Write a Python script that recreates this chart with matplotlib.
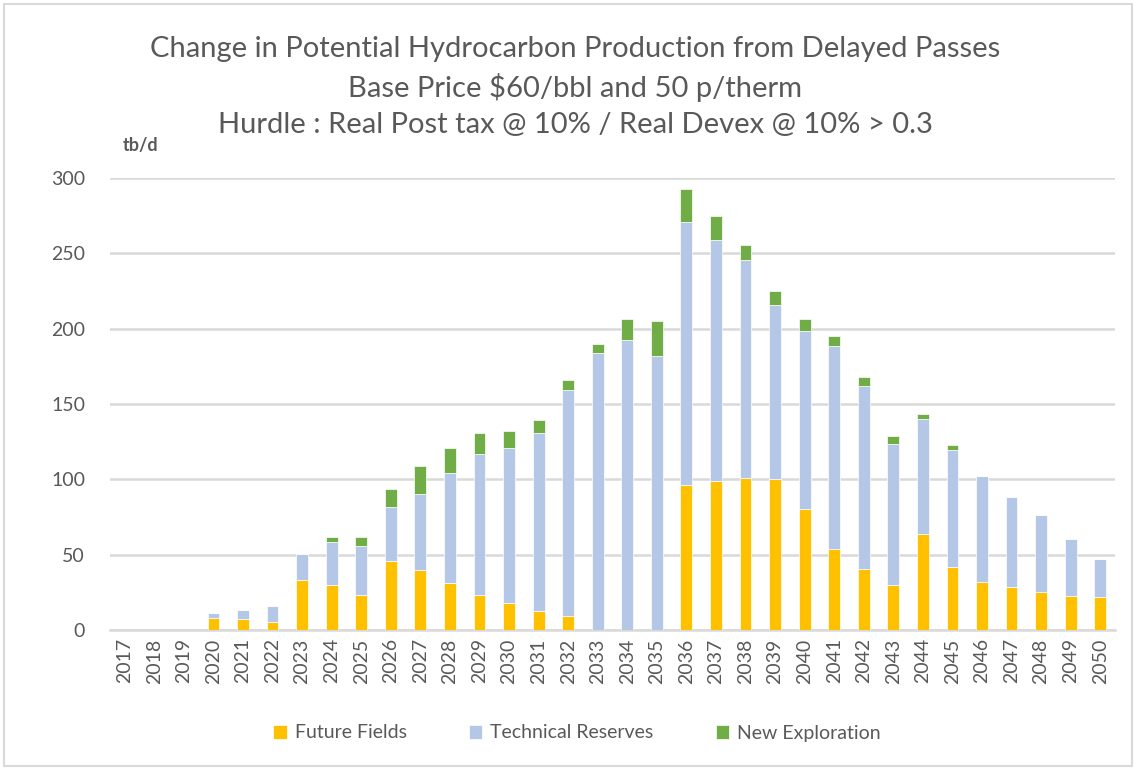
import matplotlib.pyplot as plt
import numpy as np
from matplotlib.patches import Rectangle

plt.rcParams['font.family'] = ['Lato', 'DejaVu Sans']

# --- Data (tb/d) ---
years = [str(y) for y in range(2017, 2051)]
future_fields = [0, 0, 0, 8, 7, 5, 33, 30, 23, 46, 40, 31, 23, 18, 12.5, 9,
                 0, 0, 0, 96, 99, 101, 100, 80, 54, 40.6, 29.6, 63.6, 41.5,
                 32, 28.7, 25.4, 22.8, 21.9]
technical_reserves = [0, 0, 0, 3, 6.5, 11, 17.5, 28.5, 33, 35.5, 50, 73, 94,
                      103, 118, 150, 184, 192.6, 181.6, 175, 160, 144.5, 115.6,
                      118.6, 134.3, 121.3, 94.1, 76.2, 78, 70.5, 59.4, 50.8,
                      37.3, 25.4]
new_exploration = [0, 0, 0, 0, 0, 0, 0, 3.5, 6, 12, 19, 17, 13.5, 11, 8.7, 7,
                   5.5, 13.7, 23.6, 22, 16, 10, 9.5, 7.7, 7, 6.2, 5.1, 3.6,
                   3.5, 0, 0, 0, 0, 0]

ff = np.array(future_fields)
tr = np.array(technical_reserves)
ne = np.array(new_exploration)
x = np.arange(len(years))

fig = plt.figure(figsize=(11.37, 7.69), dpi=100)
ax = fig.add_axes([110 / 1137, 1 - 630 / 769, 1005 / 1137, 452 / 769])

w = 0.4
ax.bar(x, ff, w, color='#FFC000', edgecolor='white', linewidth=0.5,
       label='Future Fields', zorder=3)
ax.bar(x, tr, w, bottom=ff, color='#B4C7E7', edgecolor='white', linewidth=0.5,
       label='Technical Reserves', zorder=3)
ax.bar(x, ne, w, bottom=ff + tr, color='#70AD47', edgecolor='white',
       linewidth=0.5, label='New Exploration', zorder=3)

ax.set_xlim(-0.5, len(years) - 0.5)
ax.set_ylim(0, 300)
ax.set_yticks(np.arange(0, 301, 50))
ax.set_xticks(x)
ax.set_xticklabels(years, rotation=90)
ax.tick_params(axis='both', length=0, labelsize=14, colors='#595959')
ax.tick_params(axis='y', pad=18)
ax.tick_params(axis='x', pad=6)
ax.grid(axis='y', color='#D9D9D9', linewidth=1.8, zorder=0)
for side in ['top', 'right', 'left']:
    ax.spines[side].set_visible(False)
ax.spines['bottom'].set_color('#D9D9D9')
ax.spines['bottom'].set_linewidth(1.8)

# --- Titles ---
title_lines = ['Change in Potential Hydrocarbon Production from Delayed Passes',
               'Base Price $60/bbl and 50 p/therm',
               'Hurdle : Real Post tax @ 10% / Real Devex @ 10% > 0.3']
for i, line in enumerate(title_lines):
    fig.text(575 / 1137, 1 - (49 + 38 * i) / 769, line, ha='center',
             va='center', fontsize=21, color='#595959')
fig.text(123 / 1137, 1 - 146 / 769, 'tb/d', ha='left', va='center',
         fontsize=13, fontweight='bold', color='#595959')

leg = fig.legend(loc='center', bbox_to_anchor=(577 / 1137, 1 - 733 / 769),
                 ncol=3, frameon=False, fontsize=14, handlelength=0.7,
                 handleheight=0.7, columnspacing=3.2, handletextpad=0.4)
for t in leg.get_texts():
    t.set_color('#595959')

# chart border
fig.patches.append(Rectangle((4 / 1137, 3 / 769), 1128 / 1137, 762 / 769,
                             transform=fig.transFigure, fill=False,
                             edgecolor='#D9D9D9', linewidth=1.5))

plt.savefig('out.png', dpi=100)
